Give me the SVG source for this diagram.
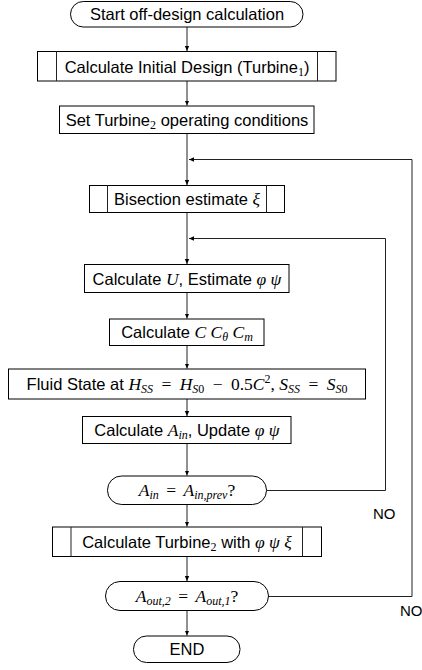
<svg xmlns="http://www.w3.org/2000/svg" width="422" height="670" viewBox="0 0 422 670">
<style>
.b{fill:#fff;stroke:#000;stroke-width:1}
.t{font-family:"Liberation Sans",Arial,sans-serif;font-size:16.5px;fill:#000;text-anchor:middle}
.m{font-family:"Liberation Serif","Times New Roman",serif;font-style:italic;font-size:17.5px}
.r{font-family:"Liberation Serif","Times New Roman",serif;font-style:normal;font-size:17.5px}
.s{font-size:12px}
.c{fill:none;stroke:#222;stroke-width:1}
.lbl{font-family:"Liberation Sans",Arial,sans-serif;font-size:15px;fill:#000}
</style>
<defs>
<marker id="ah" markerWidth="6" markerHeight="6" refX="5" refY="3" orient="auto" markerUnits="userSpaceOnUse">
<path d="M0,0.8 L5,3 L0,5.2 Z" fill="#000"/>
</marker>
</defs>
<g id="connectors">
<line class="c" x1="187" y1="27" x2="187" y2="51" marker-end="url(#ah)"/>
<line class="c" x1="187" y1="81" x2="187" y2="105.5" marker-end="url(#ah)"/>
<line class="c" x1="187" y1="133.5" x2="187" y2="185" marker-end="url(#ah)"/>
<line class="c" x1="187" y1="212.5" x2="187" y2="264" marker-end="url(#ah)"/>
<line class="c" x1="187" y1="292.5" x2="187" y2="318.5" marker-end="url(#ah)"/>
<line class="c" x1="187" y1="345.5" x2="187" y2="368.5" marker-end="url(#ah)"/>
<line class="c" x1="187" y1="399" x2="187" y2="416" marker-end="url(#ah)"/>
<line class="c" x1="187" y1="443.5" x2="187" y2="475.5" marker-end="url(#ah)"/>
<line class="c" x1="187" y1="504.5" x2="187" y2="526.5" marker-end="url(#ah)"/>
<line class="c" x1="187" y1="556.5" x2="187" y2="581" marker-end="url(#ah)"/>
<line class="c" x1="187" y1="610.5" x2="187" y2="635.5" marker-end="url(#ah)"/>
<path class="c" d="M266.5,490.5 H385.5 V238.5 H189" marker-end="url(#ah)"/>
<path class="c" d="M268.5,596.5 H412 V159.5 H189" marker-end="url(#ah)"/>
<text class="lbl" x="373" y="519">NO</text>
<text class="lbl" x="400" y="616">NO</text>
</g>
<g id="start">
<rect class="b" x="70.5" y="1.5" width="232.5" height="25.5" rx="12.75"/>
<text class="t" x="187" y="20">Start off-design calculation</text>
</g>
<g id="calcInit">
<rect class="b" x="37.5" y="51.5" width="298.5" height="29.5"/>
<line class="c" x1="56.5" y1="51.5" x2="56.5" y2="81"/>
<line class="c" x1="317.5" y1="51.5" x2="317.5" y2="81"/>
<text class="t" x="187" y="72.5">Calculate Initial Design (Turbine<tspan class="r s" dy="3">1</tspan><tspan dy="-3">)</tspan></text>
</g>
<g id="setT2">
<rect class="b" x="59.5" y="106" width="254.5" height="27.5"/>
<text class="t" x="187" y="126">Set Turbine<tspan class="r s" dy="3">2</tspan><tspan dy="-3"> operating conditions</tspan></text>
</g>
<g id="bisection">
<rect class="b" x="89.5" y="185.5" width="195" height="27"/>
<line class="c" x1="107.5" y1="185.5" x2="107.5" y2="212.5"/>
<line class="c" x1="266.5" y1="185.5" x2="266.5" y2="212.5"/>
<text class="t" x="187" y="205">Bisection estimate <tspan class="m">ξ</tspan></text>
</g>
<g id="calcU">
<rect class="b" x="84.5" y="264.5" width="204.5" height="28"/>
<text class="t" x="187" y="284.5">Calculate <tspan class="m">U</tspan>, Estimate <tspan class="m">φ ψ</tspan></text>
</g>
<g id="calcC">
<rect class="b" x="109.5" y="319" width="154.5" height="26.5"/>
<text class="t" x="187" y="338">Calculate <tspan class="m">C C</tspan><tspan class="m s" dy="3">θ</tspan><tspan class="m" dy="-3"> C</tspan><tspan class="m s" dy="3">m</tspan></text>
</g>
<g id="fluid">
<rect class="b" x="8.5" y="369" width="357" height="30"/>
<text class="t" x="187" y="390">Fluid State at <tspan class="m">H</tspan><tspan class="m s" dy="3">SS</tspan><tspan class="r" dy="-3" dx="4"> = </tspan><tspan class="m" dx="4">H</tspan><tspan class="m s" dy="3">S</tspan><tspan class="r s">0</tspan><tspan class="r" dy="-3" dx="4"> − </tspan><tspan class="r" dx="4">0.5</tspan><tspan class="m">C</tspan><tspan class="r s" dy="-7">2</tspan><tspan class="r" dy="7">, </tspan><tspan class="m">S</tspan><tspan class="m s" dy="3">SS</tspan><tspan class="r" dy="-3" dx="4"> = </tspan><tspan class="m" dx="4">S</tspan><tspan class="m s" dy="3">S</tspan><tspan class="r s">0</tspan></text>
</g>
<g id="calcA">
<rect class="b" x="82.5" y="416.5" width="208.5" height="27"/>
<text class="t" x="187" y="436">Calculate <tspan class="m">A</tspan><tspan class="m s" dy="3">in</tspan><tspan dy="-3">, Update </tspan><tspan class="m">φ ψ</tspan></text>
</g>
<g id="decision1">
<rect class="b" x="107.5" y="476" width="159" height="28.5" rx="14"/>
<text class="t" x="187" y="496"><tspan class="m">A</tspan><tspan class="m s" dy="3">in</tspan><tspan class="r" dy="-3" dx="3"> = </tspan><tspan class="m" dx="3">A</tspan><tspan class="m s" dy="3">in,prev</tspan><tspan class="r" dy="-3">?</tspan></text>
</g>
<g id="calcT2">
<rect class="b" x="52.5" y="527" width="269" height="29.5"/>
<line class="c" x1="71" y1="527" x2="71" y2="556.5"/>
<line class="c" x1="302.5" y1="527" x2="302.5" y2="556.5"/>
<text class="t" x="187" y="548">Calculate Turbine<tspan class="r s" dy="3">2</tspan><tspan dy="-3"> with </tspan><tspan class="m">φ ψ ξ</tspan></text>
</g>
<g id="decision2">
<rect class="b" x="105.5" y="581.5" width="163" height="29" rx="14.5"/>
<text class="t" x="187" y="602"><tspan class="m">A</tspan><tspan class="m s" dy="3">out,2</tspan><tspan class="r" dy="-3" dx="3"> = </tspan><tspan class="m" dx="3">A</tspan><tspan class="m s" dy="3">out,1</tspan><tspan class="r" dy="-3">?</tspan></text>
</g>
<g id="end">
<rect class="b" x="133.5" y="636" width="106.5" height="26.5" rx="13"/>
<text class="t" x="187" y="655">END</text>
</g>
</svg>
